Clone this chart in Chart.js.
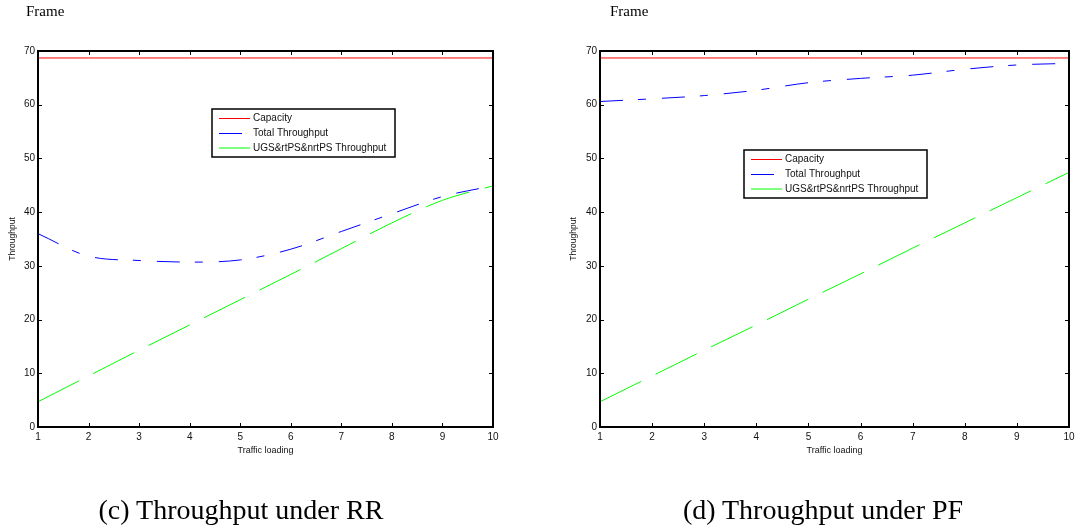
<!DOCTYPE html>
<html>
<head>
<meta charset="utf-8">
<script src="https://cdn.jsdelivr.net/npm/chart.js@4/dist/chart.umd.min.js"></script>
<style>
  html, body { margin: 0; padding: 0; background: #fff; }
  body { width: 1083px; height: 531px; position: relative; overflow: hidden; }
  .panel { position: absolute; top: 0; height: 531px; }
  .serif { position: absolute; font-family: "Liberation Serif", "Times New Roman", serif; color: #000; line-height: 1; white-space: nowrap; }
</style>
</head>
<body>
<div class="panel" style="left:0;width:540px"><canvas id="rr"></canvas></div>
<div class="panel" style="left:560px;width:523px"><canvas id="pf"></canvas></div>
<div class="serif" style="left:26px;top:4px;font-size:15px">Frame</div>
<div class="serif" style="left:610px;top:4px;font-size:15px">Frame</div>
<div class="serif" style="left:41px;width:400px;top:496px;font-size:28px;text-align:center">(c) Throughput under RR</div>
<div class="serif" style="left:623px;width:400px;top:496px;font-size:28px;text-align:center">(d) Throughput under PF</div>
<script>
// Traffic loading steps (x axis) and y tick values
const trafficLoading = [1, 2, 3, 4, 5, 6, 7, 8, 9, 10];
const throughputTicks = [0, 10, 20, 30, 40, 50, 60, 70];

// Round Robin scheduler
const rrCapacity = [68.7, 68.7, 68.7, 68.7, 68.7, 68.7, 68.7, 68.7, 68.7, 68.7];
const rrTotal    = [36.0, 31.8, 31.0, 30.7, 31.1, 33.1, 36.4, 39.7, 42.9, 44.9];
const rrUgs      = [4.7, 9.5, 14.3, 19.0, 23.7, 28.4, 33.2, 38.0, 42.2, 44.9];

// Proportional Fair scheduler
const pfCapacity = [68.7, 68.7, 68.7, 68.7, 68.7, 68.7, 68.7, 68.7, 68.7, 68.7];
const pfTotal    = [60.6, 61.1, 61.7, 62.7, 64.1, 64.9, 65.5, 66.6, 67.4, 67.7];
const pfUgs      = [4.7, 9.5, 14.3, 19.0, 23.8, 28.5, 33.3, 38.0, 42.7, 47.4];

const seriesLabels = ['Capacity', 'Total Throughput', 'UGS&rtPS&nrtPS Throughput'];

const SANS = '"Liberation Sans", Arial, sans-serif';

function points(values) {
  return trafficLoading.map((x, i) => ({ x: x, y: values[i] }));
}

// Box around the plot area with inward tick marks on all four sides
const boxFrame = {
  id: 'boxFrame',
  afterDatasetsDraw(chart, args, opts) {
    const { ctx, chartArea: a, scales } = chart;
    const len = opts.tickLength;
    ctx.save();
    ctx.strokeStyle = '#000';
    ctx.lineWidth = 1;
    ctx.beginPath();
    scales.x.ticks.forEach(t => {
      const px = Math.round(scales.x.getPixelForValue(t.value)) + 0.5;
      ctx.moveTo(px, a.bottom); ctx.lineTo(px, a.bottom - len);
      ctx.moveTo(px, a.top); ctx.lineTo(px, a.top + len);
    });
    scales.y.ticks.forEach(t => {
      const py = Math.round(scales.y.getPixelForValue(t.value)) + 0.5;
      ctx.moveTo(a.left, py); ctx.lineTo(a.left + len, py);
      ctx.moveTo(a.right, py); ctx.lineTo(a.right - len, py);
    });
    ctx.stroke();
    ctx.lineWidth = opts.lineWidth;
    ctx.strokeRect(a.left, a.top, a.right - a.left, a.bottom - a.top);
    ctx.restore();
  }
};

// Legend box placed inside the plot area
const boxLegend = {
  id: 'boxLegend',
  afterDatasetsDraw(chart, args, opts) {
    const { ctx } = chart;
    const { left, top, width, height, rows, sample, textX } = opts;
    ctx.save();
    ctx.fillStyle = '#fff';
    ctx.fillRect(left, top, width, height);
    ctx.strokeStyle = '#000';
    ctx.lineWidth = 1.5;
    ctx.strokeRect(left, top, width, height);
    ctx.font = '10px ' + SANS;
    ctx.textBaseline = 'middle';
    chart.data.datasets.forEach((ds, i) => {
      const y = top + rows[i];
      ctx.strokeStyle = ds.borderColor;
      ctx.lineWidth = 1;
      ctx.setLineDash(ds.borderDash || []);
      ctx.beginPath();
      ctx.moveTo(left + sample[0], y);
      ctx.lineTo(left + sample[1], y);
      ctx.stroke();
      ctx.setLineDash([]);
      ctx.fillStyle = '#111';
      ctx.fillText(ds.label, left + textX, y);
    });
    ctx.restore();
  }
};

function makeChart(id, capacity, total, ugs, cfg) {
  return new Chart(document.getElementById(id), {
    type: 'line',
    data: {
      datasets: [
        { label: seriesLabels[0], data: points(capacity), borderColor: '#ff0000', borderWidth: 1, pointRadius: 0, tension: 0 },
        { label: seriesLabels[1], data: points(total), borderColor: '#0000ff', borderWidth: 1, pointRadius: 0, borderDash: [23, 15, 8, 16], cubicInterpolationMode: 'monotone' },
        { label: seriesLabels[2], data: points(ugs), borderColor: '#00ff00', borderWidth: 1, pointRadius: 0, borderDash: [46, 16], cubicInterpolationMode: 'monotone' }
      ]
    },
    options: {
      responsive: true,
      maintainAspectRatio: false,
      animation: false,
      events: [],
      layout: { padding: cfg.padding },
      scales: {
        x: {
          type: 'linear',
          min: 1,
          max: 10,
          afterBuildTicks: s => { s.ticks = trafficLoading.map(v => ({ value: v })); },
          afterFit: s => { s.height = 40; },
          grid: { display: false, drawTicks: false },
          border: { display: false },
          ticks: { autoSkip: false, maxRotation: 0, padding: 4, color: '#111', font: { family: SANS, size: 10 } },
          title: { display: true, text: 'Traffic loading', color: '#111', font: { family: SANS, size: 9 }, padding: { top: 11, bottom: 11 } }
        },
        y: {
          type: 'linear',
          min: 0,
          max: 70,
          afterBuildTicks: s => { s.ticks = throughputTicks.map(v => ({ value: v })); },
          afterFit: s => { s.width = cfg.yWidth; },
          grid: { display: false, drawTicks: false },
          border: { display: false },
          ticks: { padding: 3, color: '#111', font: { family: SANS, size: 10 } },
          title: { display: true, text: 'Throughput', color: '#111', font: { family: SANS, size: 8.5 }, padding: { top: cfg.yTitlePad, bottom: cfg.yTitlePad } }
        }
      },
      plugins: {
        legend: { display: false },
        tooltip: { enabled: false },
        boxFrame: { tickLength: 4, lineWidth: 2 },
        boxLegend: cfg.legend
      }
    },
    plugins: [boxFrame, boxLegend]
  });
}

makeChart('rr', rrCapacity, rrTotal, rrUgs, {
  padding: { left: 0, right: 47, top: 51, bottom: 64 },
  yWidth: 38,
  yTitlePad: 8,
  legend: { left: 212, top: 109, width: 183, height: 48, rows: [9.5, 24.5, 39], sample: [7, 38], textX: 41 }
});

makeChart('pf', pfCapacity, pfTotal, pfUgs, {
  padding: { left: 0, right: 14, top: 51, bottom: 64 },
  yWidth: 40,
  yTitlePad: 9,
  legend: { left: 184, top: 150, width: 183, height: 48, rows: [9.5, 24.5, 39], sample: [7, 38], textX: 41 }
});
</script>
</body>
</html>
